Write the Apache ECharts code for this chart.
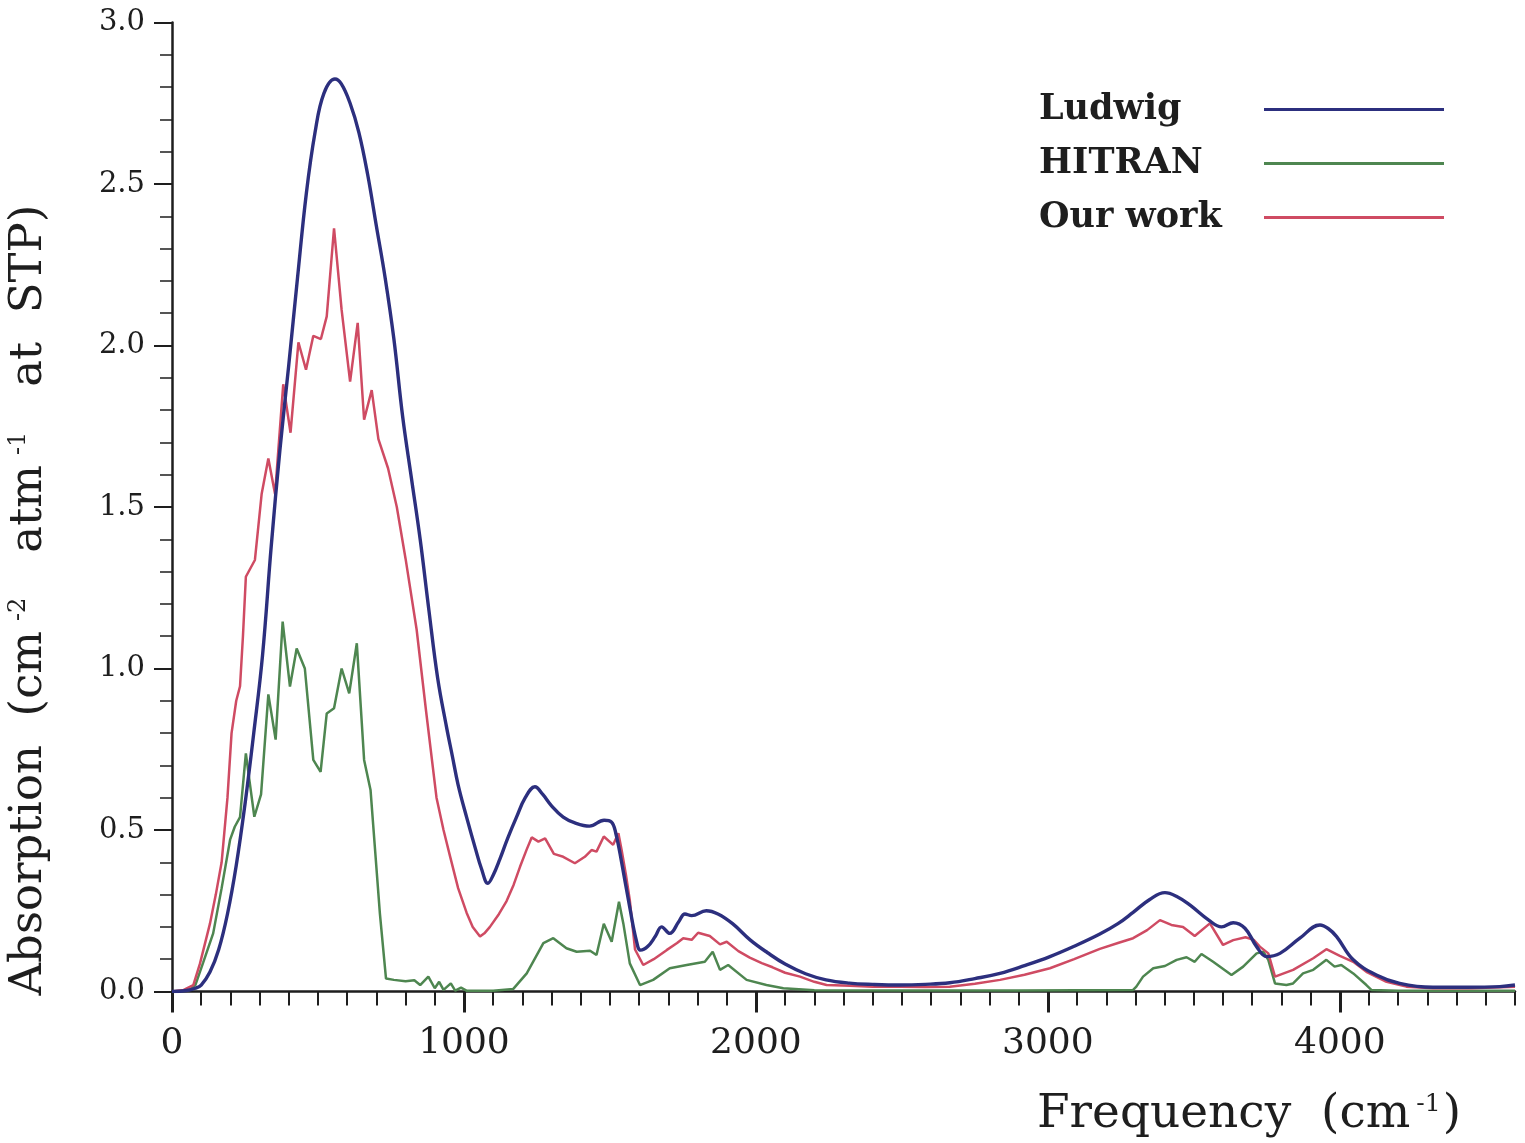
<!DOCTYPE html>
<html>
<head>
<meta charset="utf-8">
<title>Absorption spectrum</title>
<script src="https://cdn.jsdelivr.net/npm/echarts@6/dist/echarts.min.js"></script>
<style>
  html, body { margin: 0; padding: 0; background: #ffffff; }
  #chart { width: 1525px; height: 1143px; }
</style>
</head>
<body>
<div id="chart"></div>
<script>
// Absorption (cm^-2 atm^-1 at STP) against frequency (cm^-1)

const seriesNames = ['Ludwig', 'HITRAN', 'Our work'];

// Ludwig
const ludwigFreq = [0, 50, 80, 100, 130, 160, 190, 220, 250, 280, 310, 340, 370, 400, 430, 460, 490, 520, 558, 580, 610, 640, 670, 700, 730, 760, 790, 820, 850, 880, 910, 940, 960, 980, 1009, 1040, 1060, 1082, 1100, 1123, 1150, 1180, 1210, 1243, 1270, 1300, 1340, 1380, 1430, 1480, 1505, 1520, 1540, 1568, 1590, 1605, 1630, 1655, 1677, 1705, 1735, 1757, 1780, 1830, 1870, 1920, 1980, 2040, 2100, 2170, 2240, 2320, 2400, 2493, 2580, 2664, 2750, 2836, 2920, 3007, 3090, 3178, 3240, 3292, 3349, 3401, 3440, 3486, 3551, 3595, 3635, 3675, 3715, 3749, 3795, 3863, 3932, 3960, 3989, 4046, 4125, 4205, 4319, 4433, 4548, 4600];
const ludwigAbs = [0, 0.003, 0.01, 0.02, 0.06, 0.13, 0.24, 0.39, 0.58, 0.80, 1.04, 1.38, 1.68, 1.94, 2.21, 2.47, 2.66, 2.78, 2.825, 2.81, 2.75, 2.66, 2.53, 2.37, 2.21, 2.02, 1.78, 1.59, 1.40, 1.18, 0.97, 0.82, 0.73, 0.64, 0.54, 0.44, 0.38, 0.335, 0.36, 0.41, 0.475, 0.54, 0.60, 0.634, 0.61, 0.575, 0.54, 0.522, 0.512, 0.53, 0.525, 0.49, 0.40, 0.26, 0.16, 0.128, 0.14, 0.17, 0.20, 0.18, 0.215, 0.24, 0.235, 0.25, 0.24, 0.21, 0.16, 0.12, 0.085, 0.055, 0.036, 0.026, 0.022, 0.02, 0.022, 0.027, 0.04, 0.056, 0.08, 0.108, 0.14, 0.178, 0.21, 0.245, 0.285, 0.306, 0.295, 0.268, 0.221, 0.20, 0.213, 0.196, 0.139, 0.108, 0.118, 0.165, 0.206, 0.195, 0.17, 0.098, 0.051, 0.025, 0.013, 0.013, 0.015, 0.02];

// HITRAN
const hitranFreq = [0, 60, 80, 107, 141, 170, 199, 215, 233, 253, 265, 282, 305, 330, 355, 379, 404, 427, 455, 484, 509, 530, 555, 581, 607, 633, 658, 680, 712, 733, 760, 800, 830, 850, 878, 900, 915, 930, 955, 970, 990, 1010, 1100, 1169, 1215, 1272, 1306, 1351, 1386, 1432, 1454, 1479, 1506, 1531, 1546, 1568, 1603, 1648, 1705, 1763, 1825, 1852, 1877, 1905, 1968, 2036, 2094, 2200, 2500, 2900, 3292, 3303, 3326, 3361, 3401, 3441, 3475, 3503, 3526, 3566, 3629, 3669, 3715, 3738, 3755, 3778, 3817, 3840, 3874, 3909, 3954, 3982, 4005, 4046, 4091, 4108, 4200, 4600];
const hitranAbs = [0, 0.005, 0.02, 0.09, 0.18, 0.32, 0.47, 0.51, 0.54, 0.737, 0.655, 0.541, 0.61, 0.92, 0.78, 1.145, 0.944, 1.062, 1.0, 0.717, 0.68, 0.861, 0.877, 1.0, 0.923, 1.078, 0.717, 0.624, 0.242, 0.04, 0.036, 0.032, 0.035, 0.02, 0.046, 0.01, 0.03, 0.005, 0.025, 0.003, 0.012, 0.002, 0.002, 0.008, 0.056, 0.15, 0.165, 0.134, 0.123, 0.126, 0.113, 0.21, 0.154, 0.278, 0.21, 0.087, 0.02, 0.036, 0.072, 0.082, 0.092, 0.123, 0.067, 0.082, 0.036, 0.02, 0.01, 0.004, 0.003, 0.003, 0.005, 0.015, 0.046, 0.072, 0.079, 0.098, 0.106, 0.092, 0.116, 0.092, 0.051, 0.077, 0.118, 0.123, 0.098, 0.025, 0.02, 0.025, 0.056, 0.067, 0.098, 0.077, 0.082, 0.056, 0.02, 0.005, 0.002, 0.002];

// Our work
const ourFreq = [0, 40, 73, 96, 130, 150, 170, 190, 204, 220, 233, 243, 253, 284, 307, 330, 353, 381, 406, 433, 459, 484, 510, 530, 555, 581, 610, 636, 658, 684, 707, 740, 770, 800, 838, 870, 906, 930, 952, 980, 1009, 1030, 1055, 1070, 1089, 1120, 1146, 1170, 1192, 1215, 1232, 1255, 1278, 1308, 1340, 1380, 1414, 1437, 1454, 1479, 1511, 1529, 1540, 1555, 1568, 1586, 1614, 1650, 1694, 1730, 1751, 1780, 1802, 1842, 1877, 1900, 1940, 1979, 2020, 2057, 2100, 2151, 2200, 2242, 2322, 2400, 2493, 2580, 2664, 2750, 2836, 2920, 3007, 3090, 3178, 3240, 3292, 3340, 3384, 3423, 3463, 3503, 3555, 3600, 3635, 3677, 3705, 3726, 3755, 3778, 3840, 3909, 3954, 4000, 4046, 4091, 4160, 4228, 4320, 4450, 4600];
const ourAbs = [0, 0.005, 0.02, 0.087, 0.21, 0.30, 0.40, 0.60, 0.80, 0.90, 0.945, 1.10, 1.284, 1.336, 1.54, 1.65, 1.54, 1.88, 1.73, 2.01, 1.925, 2.03, 2.02, 2.09, 2.363, 2.11, 1.888, 2.07, 1.77, 1.862, 1.71, 1.62, 1.50, 1.34, 1.12, 0.87, 0.60, 0.50, 0.42, 0.32, 0.244, 0.20, 0.17, 0.18, 0.20, 0.24, 0.28, 0.33, 0.386, 0.44, 0.477, 0.464, 0.474, 0.426, 0.417, 0.397, 0.417, 0.438, 0.433, 0.48, 0.454, 0.49, 0.438, 0.36, 0.283, 0.13, 0.082, 0.10, 0.128, 0.15, 0.165, 0.16, 0.182, 0.172, 0.146, 0.154, 0.125, 0.105, 0.088, 0.075, 0.058, 0.046, 0.03, 0.02, 0.018, 0.015, 0.015, 0.014, 0.015, 0.024, 0.036, 0.052, 0.072, 0.10, 0.132, 0.15, 0.165, 0.19, 0.221, 0.206, 0.20, 0.172, 0.211, 0.144, 0.159, 0.168, 0.16, 0.139, 0.118, 0.046, 0.067, 0.103, 0.131, 0.11, 0.092, 0.061, 0.03, 0.015, 0.01, 0.01, 0.015];

// Axis tick values
const xLabelValues = [0, 1000, 2000, 3000, 4000];

const zip = (xs, ys) => xs.map((x, i) => [x, ys[i]]);

const SERIF = '"DejaVu Serif", "Liberation Serif", serif';
const INK = '#1e1e1e';

const chart = echarts.init(document.getElementById('chart'), null, { renderer: 'canvas' });

chart.setOption({
  animation: false,
  backgroundColor: '#ffffff',
  grid: {
    left: 172, right: 10, top: 22.5, bottom: 151.5,
    containLabel: false,
    outerBoundsMode: 'none'
  },
  legend: {
    data: seriesNames,
    orient: 'vertical',
    align: 'right',
    left: 1034,
    top: 87,
    icon: 'rect',
    itemWidth: 180,
    itemHeight: 3,
    itemGap: 19,
    formatter: name => '{n|' + name + '}',
    textStyle: {
      color: INK,
      fontFamily: SERIF,
      fontSize: 35,
      fontWeight: 'bold',
      rich: {
        n: { width: 220, align: 'left', fontFamily: SERIF, fontSize: 35, fontWeight: 'bold', lineHeight: 36, color: INK }
      }
    }
  },
  xAxis: [
    {
      type: 'value',
      min: 0, max: 4600, interval: 100,
      axisLine: { show: true, onZero: false, lineStyle: { color: INK, width: 2.5 } },
      axisTick: { show: true, inside: false, length: 14, lineStyle: { color: INK, width: 2 } },
      axisLabel: {
        customValues: xLabelValues,
        margin: 34,
        color: INK,
        fontFamily: SERIF,
        fontSize: 36,
        formatter: v => String(v)
      },
      splitLine: { show: false },
      name: 'Frequency  (cm{sup|-1})',
      nameLocation: 'middle',
      nameGap: 100,
      nameTextStyle: {
        color: INK,
        fontFamily: SERIF,
        fontSize: 47,
        padding: [0, 0, 0, 811],
        rich: {
          sup: { fontFamily: SERIF, fontSize: 25, verticalAlign: 'top', padding: [0, 2, 20, 6], color: INK }
        }
      }
    },
    {
      type: 'value',
      min: 0, max: 4600, interval: 1000,
      position: 'bottom',
      axisLine: { show: false },
      axisTick: { show: true, customValues: xLabelValues, length: 21, lineStyle: { color: INK, width: 3 } },
      axisLabel: { show: false },
      splitLine: { show: false }
    }
  ],
  yAxis: {
    type: 'value',
    min: 0, max: 3, interval: 0.5,
    axisLine: { show: true, onZero: false, lineStyle: { color: INK, width: 2.5 } },
    axisTick: { show: true, length: 18, lineStyle: { color: INK, width: 2 } },
    minorTick: { show: true, splitNumber: 5, length: 12, lineStyle: { color: INK, width: 1.5 } },
    axisLabel: {
      margin: 27,
      color: INK,
      fontFamily: SERIF,
      fontSize: 29,
      formatter: v => v.toFixed(1)
    },
    splitLine: { show: false },
    minorSplitLine: { show: false },
    name: 'Absorption  (cm{sup|-2}   atm{sup|-1}   at  STP)',
    nameLocation: 'middle',
    nameRotate: 90,
    nameGap: 120,
    nameTextStyle: {
      color: INK,
      fontFamily: SERIF,
      fontSize: 45,
      padding: [0, 186, 0, 0],
      rich: {
        sup: { fontFamily: SERIF, fontSize: 24, verticalAlign: 'top', padding: [0, 2, 18, 10], color: INK }
      }
    }
  },
  series: [
    {
      name: 'Ludwig',
      type: 'line',
      data: zip(ludwigFreq, ludwigAbs),
      symbol: 'none',
      smooth: 0.4,
      z: 4,
      color: '#2c2f7e',
      lineStyle: { width: 3.4, color: '#2c2f7e' }
    },
    {
      name: 'HITRAN',
      type: 'line',
      data: zip(hitranFreq, hitranAbs),
      symbol: 'none',
      z: 2,
      color: '#4e8650',
      lineStyle: { width: 2.5, color: '#4e8650' }
    },
    {
      name: 'Our work',
      type: 'line',
      data: zip(ourFreq, ourAbs),
      symbol: 'none',
      z: 3,
      color: '#cf4b63',
      lineStyle: { width: 2.5, color: '#cf4b63' }
    }
  ]
});
</script>
</body>
</html>
